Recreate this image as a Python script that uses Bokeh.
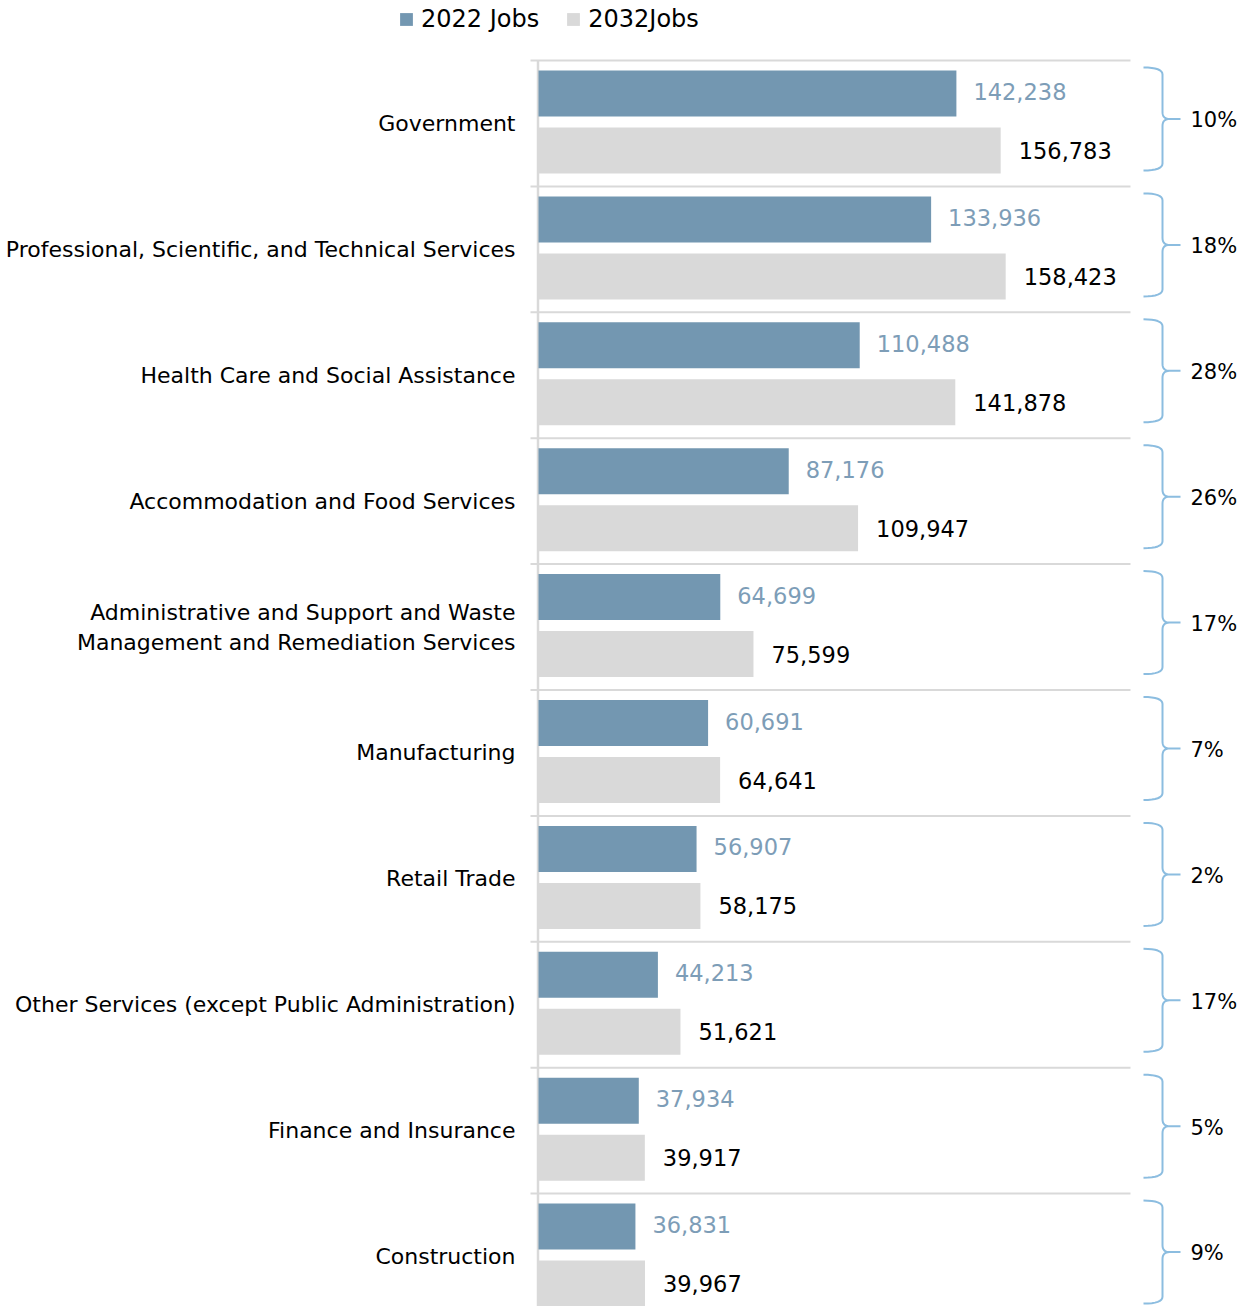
from bokeh.plotting import figure
from bokeh.models import Range1d, Legend, LegendItem, ColumnDataSource
from bokeh.embed import file_html
from bokeh.resources import INLINE
from bokeh.core.properties import value

# ---------------- data ----------------
categories = [
    "Government",
    "Professional, Scientific, and Technical Services",
    "Health Care and Social Assistance",
    "Accommodation and Food Services",
    "Administrative and Support and Waste\nManagement and Remediation Services",
    "Manufacturing",
    "Retail Trade",
    "Other Services (except Public Administration)",
    "Finance and Insurance",
    "Construction",
]
jobs_2022 = [142238, 133936, 110488, 87176, 64699, 60691, 56907, 44213, 37934, 36831]
jobs_2032 = [156783, 158423, 141878, 109947, 75599, 64641, 58175, 51621, 39917, 39967]
growth_labels = ["10%", "18%", "28%", "26%", "17%", "7%", "2%", "17%", "5%", "9%"]
series_names = ["2022 Jobs", "2032Jobs"]

# ---------------- styling / layout ----------------
FONT = "DejaVu Sans"
BLUE = "#7397b1"
BLUE_TXT = "#7d9db7"
GREY = "#d9d9d9"
BRACE = "#8cbde0"

W, H = 1239, 1306
AXIS_MIN = 5000     # value at the category axis line
UX = 328.4          # data units per pixel (x)
BAND = 125.9        # pixels per category band
ORIGIN_PX = 538     # x of the axis line inside canvas
TOP_PX = 60         # top of first band inside canvas

def px_x(px):  # canvas px -> data x
    return AXIS_MIN + (px - ORIGIN_PX) * UX

n = len(categories)
idx = list(range(n))

p = figure(width=W, height=H, output_backend="svg", toolbar_location=None,
           min_border=0, min_border_left=0, min_border_right=0,
           min_border_top=0, min_border_bottom=0,
           x_range=Range1d(px_x(0), px_x(W)),
           y_range=Range1d((H - TOP_PX) / BAND, -TOP_PX / BAND))
p.axis.visible = False
p.grid.visible = False
p.outline_line_color = None
p.background_fill_color = "white"

src = ColumnDataSource(dict(
    cat=categories,
    y_cat=[i + 0.5 for i in idx],
    y_a=[i + 33 / BAND for i in idx],
    y_b=[i + 90 / BAND for i in idx],
    a=jobs_2022,
    b=jobs_2032,
    a_lbl=[f"{v:,}" for v in jobs_2022],
    b_lbl=[f"{v:,}" for v in jobs_2032],
    g_lbl=growth_labels,
    y_g=[i + 0.475 for i in idx],
))

# separators and axis line
sep_y = [float(i) for i in idx]
p.segment(x0=[px_x(530)] * n, x1=[px_x(1130)] * n, y0=sep_y, y1=sep_y,
          line_color=GREY, line_width=2)
p.segment(x0=[px_x(537.5)], x1=[px_x(537.5)], y0=[0], y1=[H / BAND],
          line_color=GREY, line_width=2.5)

bh = 46 / BAND
r_a = p.hbar(y="y_a", left=AXIS_MIN, right="a", height=bh, source=src,
             fill_color=BLUE, line_color=None)
r_b = p.hbar(y="y_b", left=AXIS_MIN, right="b", height=bh, source=src,
             fill_color=GREY, line_color=None)

# value labels
p.text(x="a", y="y_a", text="a_lbl", source=src, x_offset=17, y_offset=-2,
       text_baseline="middle", text_align="left", text_color=BLUE_TXT,
       text_font=value(FONT), text_font_size="22.5px")
p.text(x="b", y="y_b", text="b_lbl", source=src, x_offset=18,
       text_baseline="middle", text_align="left", text_color="black",
       text_font=value(FONT), text_font_size="22.5px")

# category labels
p.text(x=px_x(515), y="y_cat", text="cat", source=src,
       text_baseline="middle", text_align="right", text_color="black",
       text_font=value(FONT), text_font_size="22px", text_line_height=1.2)

# braces
def quad(p0, c, p1, k=8):
    pts = []
    for j in range(k + 1):
        t = j / k
        x = (1 - t) ** 2 * p0[0] + 2 * (1 - t) * t * c[0] + t ** 2 * p1[0]
        y = (1 - t) ** 2 * p0[1] + 2 * (1 - t) * t * c[1] + t ** 2 * p1[1]
        pts.append((x, y))
    return pts

xs, ys = [], []
for i in idx:
    top, bot = 7, 110
    mid = (top + bot) / 2
    xl, xv, xt, r = 1143, 1162, 1180, 7
    path = []
    path += quad((xl, top), (xv, top), (xv, top + r))
    path += [(xv, mid - r)]
    path += quad((xv, mid - r), (xv, mid), (xv + r, mid))
    path += [(xt, mid), (xv + r, mid)]
    path += quad((xv + r, mid), (xv, mid), (xv, mid + r))
    path += [(xv, bot - r)]
    path += quad((xv, bot - r), (xv, bot), (xl, bot))
    xs.append([px_x(q[0]) for q in path])
    ys.append([i + q[1] / BAND for q in path])
p.multi_line(xs=xs, ys=ys, line_color=BRACE, line_width=2)

p.text(x=px_x(1190), y="y_g", text="g_lbl", source=src,
       text_baseline="middle", text_align="left", text_color="black",
       text_font=value(FONT), text_font_size="21px")

legend = Legend(items=[LegendItem(label=series_names[0], renderers=[r_a]),
                       LegendItem(label=series_names[1], renderers=[r_b])],
                orientation="horizontal", location=(398, H - 33),
                glyph_width=16, glyph_height=16, label_standoff=7, spacing=26,
                padding=0, margin=0, border_line_color=None,
                background_fill_alpha=0,
                label_text_font=FONT, label_text_font_size="24px",
                label_text_color="black", label_height=26)
p.add_layout(legend, "center")

open("out.html", "w").write(file_html(p, INLINE))
